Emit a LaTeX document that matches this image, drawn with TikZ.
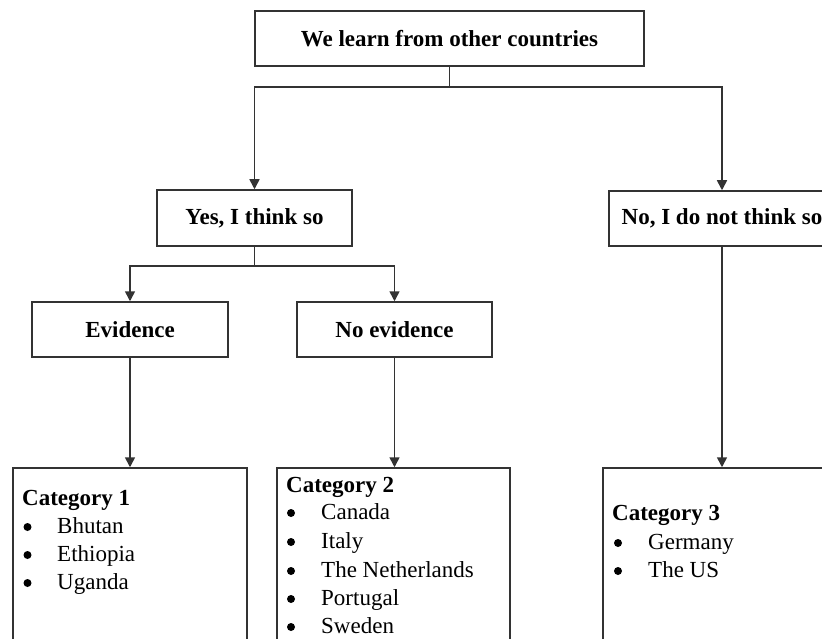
\documentclass[tikz,border=0pt]{standalone}
\usepackage{fontspec}
\setmainfont{Liberation Serif}
\usetikzlibrary{arrows.meta}
\begin{document}
\begin{tikzpicture}[x=1pt,y=-1pt,
  box/.style={draw=black!80, line width=1.5pt, rectangle, inner sep=0pt, font=\fontsize{23}{28}\selectfont\bfseries},
  catbox/.style={draw=black!80, line width=1.5pt, rectangle, inner sep=0pt},
  conn/.style={draw=black!80, line width=1.6pt},
  arr/.style={conn, -{Triangle[width=10pt,length=10pt]}},
  cattitle/.style={anchor=base west, inner sep=0pt, font=\fontsize{23}{28}\selectfont\bfseries},
  item/.style={anchor=base west, inner sep=0pt, font=\fontsize{23}{28}\selectfont},
  bul/.style={circle, fill=black, inner sep=0pt, minimum size=8pt},
]
\useasboundingbox (0,0) rectangle (822,639);
\clip (0,0) rectangle (822,639);
\fill[white] (0,0) rectangle (822,639);

\node[box, minimum width=389pt, minimum height=55pt] (top) at (449.5,38.5) {We learn from other countries};
\node[box, minimum width=195pt, minimum height=56pt] (yes) at (254.5,218) {Yes, I think so};
\node[box, minimum width=226pt, minimum height=55pt] (no) at (722,218.5) {No, I do not think so};
\node[box, minimum width=196pt, minimum height=55pt] (ev) at (130,329.5) {Evidence};
\node[box, minimum width=195pt, minimum height=55pt] (nev) at (394.5,329.5) {No evidence};
\node[catbox, minimum width=234pt, minimum height=177pt] (cat1) at (130,556.5) {};
\node[catbox, minimum width=233pt, minimum height=177pt] (cat2) at (393.5,556.5) {};
\node[catbox, minimum width=236pt, minimum height=177pt] (cat3) at (721,556.5) {};

\coordinate (j1) at (449.5,87);
\draw[conn] (top.south) -- (j1);
\draw[arr] (j1) -| (yes.north);
\draw[arr] (j1) -| (no.north);
\coordinate (j2) at (254.5,266);
\draw[conn] (yes.south) -- (j2);
\draw[arr] (j2) -| (ev.north);
\draw[arr] (j2) -| (nev.north);
\draw[arr] (ev.south) -- (cat1.north);
\draw[arr] (nev.south) -- (nev.south |- cat2.north);
\draw[arr] (no.south) -- (no.south |- cat3.north);

% Category 1
\node[cattitle] (c1t) at (22,505) {Category 1};
\node[bul] (c1b1) at (27.5,527) {};
\node[item] (c1i1) at (57,533) {Bhutan};
\node[bul] (c1b2) at (27.5,555) {};
\node[item] (c1i2) at (57,561) {Ethiopia};
\node[bul] (c1b3) at (27.5,583) {};
\node[item] (c1i3) at (57,589) {Uganda};

% Category 2
\node[cattitle] (c2t) at (286,492) {Category 2};
\node[bul] (c2b1) at (291,513) {};
\node[item] (c2i1) at (321,519) {Canada};
\node[bul] (c2b2) at (291,542) {};
\node[item] (c2i2) at (321,548) {Italy};
\node[bul] (c2b3) at (291,571) {};
\node[item] (c2i3) at (321,577) {The Netherlands};
\node[bul] (c2b4) at (291,599) {};
\node[item] (c2i4) at (321,605) {Portugal};
\node[bul] (c2b5) at (291,627) {};
\node[item] (c2i5) at (321,633) {Sweden};

% Category 3
\node[cattitle] (c3t) at (612,520) {Category 3};
\node[bul] (c3b1) at (618,543) {};
\node[item] (c3i1) at (648,549) {Germany};
\node[bul] (c3b2) at (618,571) {};
\node[item] (c3i2) at (648,577) {The US};
\end{tikzpicture}
\end{document}
